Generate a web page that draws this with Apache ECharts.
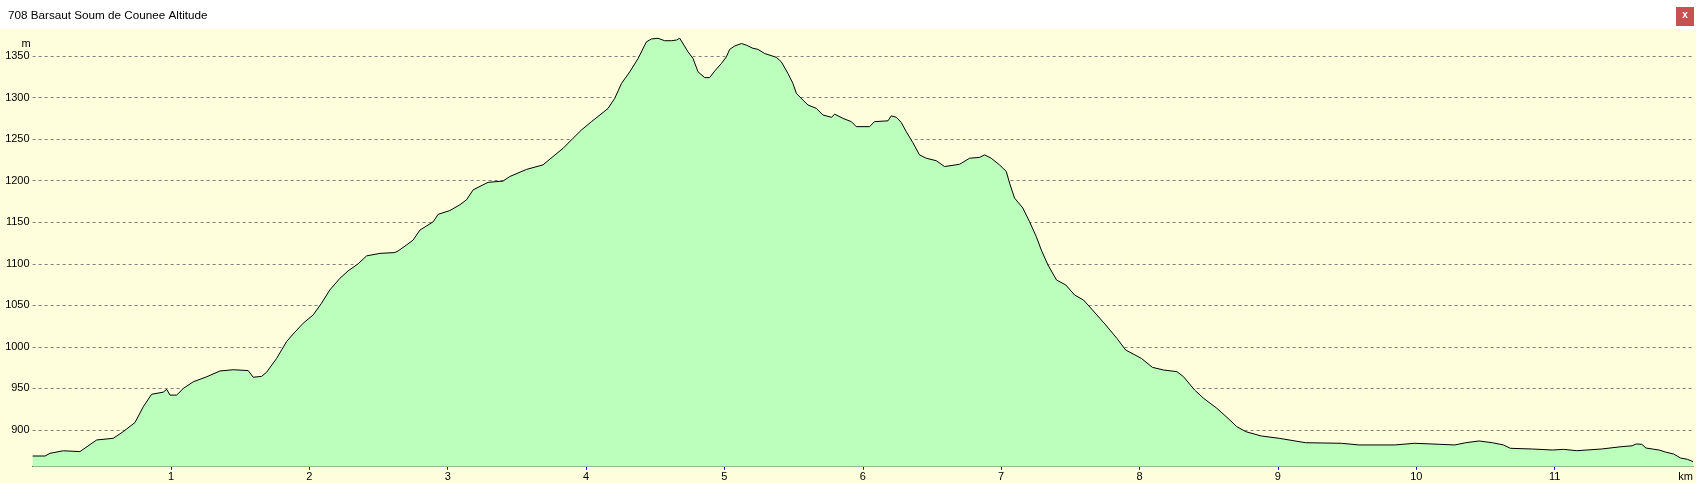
<!DOCTYPE html>
<html>
<head>
<meta charset="utf-8">
<script src="https://cdn.jsdelivr.net/npm/echarts@6/dist/echarts.min.js"></script>
<style>
html,body{margin:0;padding:0;background:#fff;}
#chart{width:1696px;height:483px;}
</style>
</head>
<body>
<div id="chart"></div>
<script>
// ---- data ----
const distanceKm = [0, 0.09, 0.126, 0.222, 0.342, 0.463, 0.583, 0.655, 0.74, 0.80, 0.86, 0.944, 0.969, 0.993, 1.041, 1.089, 1.161, 1.258, 1.354, 1.45, 1.558, 1.594, 1.655, 1.691, 1.763, 1.836, 1.883, 1.956, 2.028, 2.088, 2.148, 2.221, 2.281, 2.353, 2.414, 2.51, 2.618, 2.642, 2.702, 2.75, 2.799, 2.895, 2.931, 3.015, 3.088, 3.136, 3.184, 3.292, 3.40, 3.449, 3.569, 3.689, 3.761, 3.834, 3.906, 3.967, 4.039, 4.123, 4.159, 4.207, 4.256, 4.316, 4.376, 4.436, 4.472, 4.52, 4.568, 4.617, 4.653, 4.677, 4.737, 4.773, 4.809, 4.857, 4.893, 4.93, 4.978, 5.014, 5.038, 5.074, 5.123, 5.159, 5.206, 5.242, 5.291, 5.375, 5.411, 5.459, 5.495, 5.52, 5.567, 5.604, 5.664, 5.712, 5.773, 5.797, 5.856, 5.917, 5.953, 6.049, 6.085, 6.182, 6.206, 6.242, 6.278, 6.314, 6.362, 6.41, 6.459, 6.531, 6.591, 6.699, 6.772, 6.844, 6.88, 6.928, 6.988, 7.037, 7.061, 7.097, 7.157, 7.205, 7.254, 7.29, 7.338, 7.40, 7.467, 7.531, 7.595, 7.66, 7.756, 7.836, 7.90, 8.013, 8.093, 8.173, 8.27, 8.318, 8.398, 8.463, 8.559, 8.639, 8.703, 8.768, 8.88, 9.009, 9.20, 9.458, 9.587, 9.844, 9.988, 10.165, 10.278, 10.358, 10.454, 10.55, 10.63, 10.68, 10.84, 10.984, 11.065, 11.16, 11.338, 11.48, 11.56, 11.59, 11.63, 11.66, 11.755, 11.80, 11.86, 11.91, 11.96, 12.0];
const altitudeM = [868.7, 868.7, 872, 875, 874, 888, 890, 898, 909, 928, 943, 945.5, 949, 942, 942, 950, 958, 964, 971, 972.5, 971.5, 963.5, 964.5, 969.5, 986, 1006.5, 1015.5, 1028.5, 1038.5, 1052.5, 1068.5, 1082.5, 1091.5, 1100, 1109.5, 1112.5, 1113.5, 1115.5, 1122.5, 1128.5, 1140.5, 1150.5, 1159.5, 1164, 1171, 1177, 1189, 1198, 1199.5, 1205, 1213.5, 1219, 1229, 1239, 1251, 1261, 1271, 1282, 1287, 1299, 1317, 1331, 1347, 1367, 1370.5, 1371.3, 1368.4, 1368.4, 1369.2, 1371.3, 1355, 1347, 1331, 1324, 1324, 1332, 1341, 1349, 1358, 1362, 1365, 1363, 1359.3, 1358, 1353, 1348.4, 1343, 1329, 1317, 1305, 1297, 1291, 1287, 1279, 1276.3, 1280, 1275, 1271, 1265, 1265, 1271, 1272, 1278, 1276.3, 1270, 1259, 1245.7, 1231, 1227, 1224, 1217, 1219.7, 1227, 1228, 1231, 1227, 1219, 1211, 1197, 1179, 1167, 1150.7, 1132.6, 1116.6, 1098.6, 1080.5, 1074.5, 1062.4, 1056.4, 1044.4, 1026.3, 1010.3, 996.2, 986.2, 975.4, 972.2, 970.2, 964.1, 948.1, 938.1, 926.1, 914.1, 904, 898, 892.8, 890, 884.7, 884, 882, 882, 884, 882.8, 882, 884.7, 886.8, 884.7, 882, 878, 877.1, 875.9, 876.7, 875.1, 877.1, 879.9, 881, 883.2, 882.8, 878.3, 875.9, 873.5, 871.1, 866.3, 864.7, 862];
const yTickValues = [900, 950, 1000, 1050, 1100, 1150, 1200, 1250, 1300, 1350];
const xTickValues = [1, 2, 3, 4, 5, 6, 7, 8, 9, 10, 11];
const xLabelValues = [1, 2, 3, 4, 5, 6, 7, 8, 9, 10, 11, 12];
const xTickLabels = ['1', '2', '3', '4', '5', '6', '7', '8', '9', '10', '11', 'km'];
const titleText = '708 Barsaut Soum de Counee Altitude';
const yUnit = 'm';

const points = distanceKm.map((d, i) => [d, altitudeM[i]]);
const FONT = '"Liberation Sans", Arial, sans-serif';

const chart = echarts.init(document.getElementById('chart'), null, {renderer: 'canvas'});
chart.setOption({
  animation: false,
  backgroundColor: '#FFFEDC',
  grid: {left: 32.6, right: 1.3, top: 30, bottom: 16.3, containLabel: false},
  xAxis: {
    type: 'value', min: 0, max: 12, interval: 1,
    axisLine: {show: true, onZero: false, lineStyle: {color: '#000', width: 1}},
    axisTick: {show: true, customValues: xTickValues, length: 3, lineStyle: {color: '#0000FF', width: 1}},
    axisLabel: {
      customValues: xLabelValues,
      margin: 5, fontSize: 11, fontFamily: FONT, color: '#000',
      alignMaxLabel: 'right',
      formatter: v => { const i = xLabelValues.indexOf(Math.round(v)); return i >= 0 ? xTickLabels[i] : ''; }
    },
    splitLine: {show: false}
  },
  yAxis: {
    type: 'value', min: 855.84, max: 1381.28,
    axisLine: {show: false},
    axisTick: {show: false, customValues: yTickValues},
    axisLabel: {customValues: yTickValues, margin: 3, fontSize: 11, fontFamily: FONT, color: '#000',
      formatter: v => String(Math.round(v))},
    splitLine: {show: true, lineStyle: {color: '#808080', width: 1, type: [3, 3]}}
  },
  series: [{
    type: 'line', data: points, showSymbol: false, smooth: false,
    lineStyle: {color: '#000', width: 1},
    areaStyle: {color: '#BCFFBC', opacity: 1},
    z: 3
  }],
  graphic: [
    {type: 'rect', left: 0, top: 0, shape: {x: 0, y: 0, width: 1696, height: 29}, style: {fill: '#FFFFFF'}, silent: true},
    {type: 'text', style: {text: titleText, x: 8, y: 15.5, verticalAlign: 'middle', align: 'left', font: '11.7px ' + FONT, fill: '#000'}},
    {type: 'rect', shape: {x: 1676, y: 7, width: 18, height: 19}, style: {fill: '#C75050'}},
    {type: 'text', style: {text: 'x', x: 1685, y: 15.5, align: 'center', verticalAlign: 'middle', font: 'bold 10px ' + FONT, fill: '#FFFFFF'}},
    {type: 'text', style: {text: yUnit, x: 26, y: 44, align: 'center', verticalAlign: 'middle', font: '11px ' + FONT, fill: '#000'}}
  ]
});
</script>
</body>
</html>
